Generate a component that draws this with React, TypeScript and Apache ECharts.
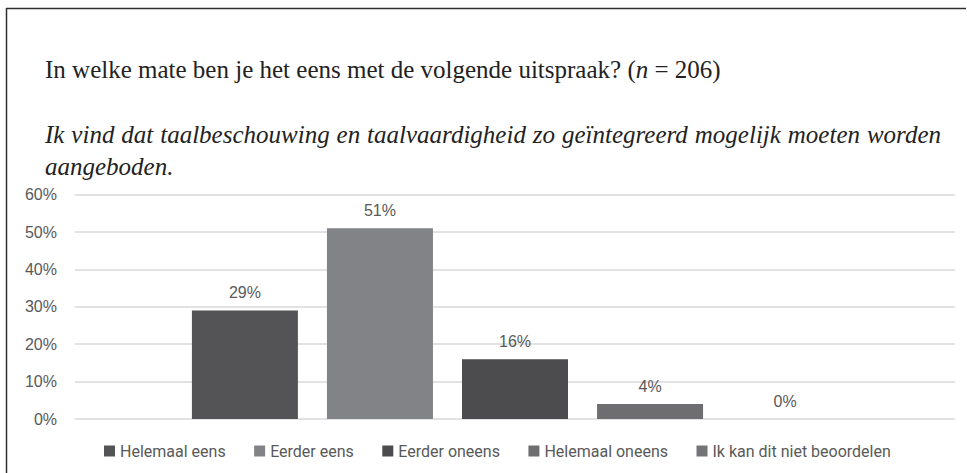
import React, { useEffect, useRef } from "react";
import * as echarts from "echarts";

const categories = [
  "Helemaal eens",
  "Eerder eens",
  "Eerder oneens",
  "Helemaal oneens",
  "Ik kan dit niet beoordelen",
];
const values = [29, 51, 16, 4, 0];
const yTicks = [0, 10, 20, 30, 40, 50, 60];
const colors = ["#545456", "#828387", "#4c4c4e", "#6e6e71", "#747476"];

const questionText = "In welke mate ben je het eens met de volgende uitspraak? (";
const questionN = "n";
const questionTail = " = 206)";
const statementLine1 = "Ik vind dat taalbeschouwing en taalvaardigheid zo geïntegreerd mogelijk moeten worden";
const statementLine2 = "aangeboden.";

const SERIF = '"Liberation Serif", "DejaVu Serif", serif';
const TITLE_SIZE = 25;

export default function App() {
  const ref = useRef<HTMLDivElement>(null);
  useEffect(() => {
    if (!ref.current) return;
    const chart = echarts.init(ref.current, null, { renderer: "svg" });

    // justify first statement line
    const canvas = document.createElement("canvas");
    const ctx = canvas.getContext("2d")!;
    ctx.font = `italic ${TITLE_SIZE}px "Liberation Serif"`;
    const words = statementLine1.split(" ");
    const widths = words.map((w) => ctx.measureText(w).width);
    const total = widths.reduce((a, b) => a + b, 0);
    const x0 = 45;
    const x1 = 941;
    const gap = (x1 - x0 - total) / (words.length - 1);
    let cx = x0;
    const wordEls: any[] = words.map((w, i) => {
      const el = {
        type: "text",
        x: cx,
        y: 134,
        style: {
          text: w,
          fill: "#222",
          font: `italic ${TITLE_SIZE}px ${SERIF}`,
          verticalAlign: "middle",
          align: "left",
        },
      };
      cx += widths[i] + gap;
      return el;
    });

    const option: any = {
      animation: false,
      backgroundColor: "#ffffff",
      graphic: [
        {
          type: "line",
          shape: { x1: 6, y1: 8.5, x2: 966, y2: 8.5 },
          style: { stroke: "#2e2e2e", lineWidth: 1.5 },
        },
        {
          type: "line",
          shape: { x1: 6.5, y1: 8, x2: 6.5, y2: 473 },
          style: { stroke: "#2e2e2e", lineWidth: 1.5 },
        },
        {
          type: "text",
          x: 45,
          y: 69,
          style: {
            text: `{a|${questionText}}{i|${questionN}}{a|${questionTail}}`,
            verticalAlign: "middle",
            rich: {
              a: { fontFamily: SERIF, fontSize: TITLE_SIZE, fill: "#222", color: "#222" },
              i: { fontFamily: SERIF, fontSize: TITLE_SIZE, fontStyle: "italic", fill: "#222", color: "#222" },
            },
          },
        },
        ...wordEls,
        {
          type: "text",
          x: 45,
          y: 166,
          style: {
            text: statementLine2,
            fill: "#222",
            font: `italic ${TITLE_SIZE}px ${SERIF}`,
            verticalAlign: "middle",
          },
        },
      ],
      legend: {
        data: categories,
        left: 99,
        top: 438,
        icon: "rect",
        itemWidth: 11,
        itemHeight: 11,
        itemGap: 28.5,
        textStyle: { color: "#595959", fontFamily: "Roboto", fontSize: 16 },
      },
      grid: { left: 75, right: 12, top: 194.7, bottom: 54, containLabel: false },
      xAxis: {
        type: "category",
        data: [""],
        axisLine: { show: false },
        axisTick: { show: false },
        axisLabel: { show: false },
      },
      yAxis: {
        type: "value",
        min: yTicks[0],
        max: yTicks[yTicks.length - 1],
        interval: yTicks[1] - yTicks[0],
        axisLine: { show: false },
        axisTick: { show: false },
        axisLabel: {
          formatter: "{value}%",
          color: "#595959",
          fontFamily: "Liberation Sans",
          fontSize: 16,
          margin: 18,
        },
        splitLine: { lineStyle: { color: "#d9d9d9", width: 1.5 } },
      },
      series: categories.map((name, i) => ({
        name,
        type: "bar",
        data: [values[i]],
        barWidth: 106,
        barGap: "27.4%",
        itemStyle: { color: colors[i] },
        label: {
          show: true,
          position: "top",
          distance: 10,
          formatter: "{c}%",
          color: "#595959",
          fontFamily: "Liberation Sans",
          fontSize: 16,
        },
      })),
    };
    chart.setOption(option);
    return () => chart.dispose();
  }, []);
  return (
    <div
      ref={ref}
      style={{ position: "fixed", left: 0, top: 0, width: 967, height: 473, background: "#fff" }}
    />
  );
}
